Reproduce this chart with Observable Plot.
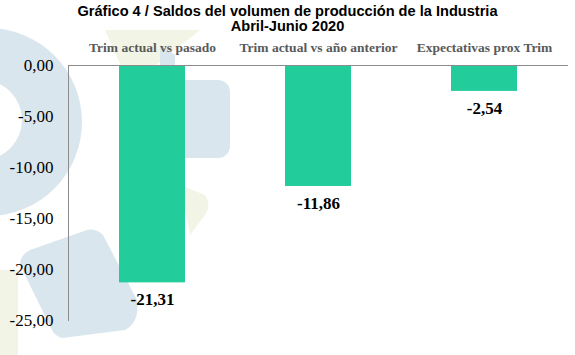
<!DOCTYPE html>
<html>
<head>
<meta charset="utf-8">
<script src="https://cdn.jsdelivr.net/npm/d3@7"></script>
<script src="https://cdn.jsdelivr.net/npm/@observablehq/plot@0.6"></script>
<style>
  html, body { margin: 0; padding: 0; background: #fff; }
  #wrap { width: 575px; height: 355px; position: relative; overflow: hidden; }
  #bg { position: absolute; left: 0; top: 0; }
  #title { position: relative; font-family: "Liberation Sans", Arial, sans-serif; font-weight: bold; font-size: 14.6px;
           line-height: 15px; text-align: center; color: #000; padding-top: 4px; height: 36px;
           width: 575px; box-sizing: border-box; }
  #chart { position: relative; }
  #chart svg { display: block; }
  #chart svg text { font-family: "Liberation Serif", "Times New Roman", serif !important; }
</style>
</head>
<body>
<div id="wrap">
  <svg id="bg" width="575" height="355" aria-hidden="true">
    <g fill="#f2f5e6">
      <path d="M105,30 L200,30 L150,70 L125,75 Z"/>
      <path d="M180,185 L205,195 Q212,205 205,215 L190,235 Z"/>
      <rect x="0" y="270" width="18" height="85"/>
    </g>
    <g fill="#dae6ee">
      <path fill-rule="evenodd" d="M-12,28 A94,94 0 1 1 -12,216 A94,94 0 1 1 -12,28 Z M-18,80 A40,40 0 1 0 -18,160 A40,40 0 1 0 -18,80 Z"/>
      <rect x="160" y="80" width="70" height="78" rx="12"/>
      <path d="M160,45 L175,55 L175,80 L160,80 Z"/>
      <path d="M87,230 Q95,228 103,235 L137,300 Q140,322 125,330 L62,338 Q55,336 52,330 L20,265 Q20,255 30,250 Z"/>
    </g>
  </svg>
  <div id="title">Gráfico 4 / Saldos del volumen de producción de la Industria<br>Abril-Junio 2020</div>
  <div id="chart"></div>
</div>
<script>
const categories = ["Trim actual vs pasado", "Trim actual vs año anterior", "Expectativas prox Trim"];
const values = [-21.31, -11.86, -2.54];
const yTicks = [0, -5, -10, -15, -20, -25];

const data = categories.map((c, i) => ({cat: c, value: values[i]}));
const fmt = v => v.toFixed(2).replace(".", ",");
const serif = "'Liberation Serif', 'Times New Roman', serif";

const plot = Plot.plot({
  width: 575,
  height: 319,
  marginTop: 29,
  marginBottom: 35,
  marginLeft: 68,
  marginRight: 7,
  style: {background: "transparent", fontFamily: serif},
  x: {domain: categories, paddingInner: 0.6, paddingOuter: 0.3, axis: null},
  y: {domain: [-25, 0], axis: null},
  marks: [
    Plot.barY(data, {x: "cat", y: "value", fill: "#22cc9b"}),
    Plot.ruleY([0], {stroke: "#8c8c8c", strokeWidth: 1}),
    Plot.frame({anchor: "left", stroke: "#8c8c8c"}),
    Plot.axisY({ticks: yTicks, tickSize: 0, tickPadding: 15, tickFormat: fmt, label: null,
                fontSize: 17, fontFamily: serif, fill: "#000", fontVariant: "normal"}),
    Plot.axisX({anchor: "top", tickSize: 0, tickPadding: 14, label: null,
                fontSize: 13.5, fontWeight: "bold", fontFamily: serif, fill: "#595959"}),
    Plot.text(data, {x: "cat", y: "value", text: d => fmt(d.value), dy: 17,
                     fontSize: 17, fontWeight: "bold", fontFamily: serif, fill: "#000"})
  ]
});
document.getElementById("chart").appendChild(plot);
</script>
</body>
</html>
